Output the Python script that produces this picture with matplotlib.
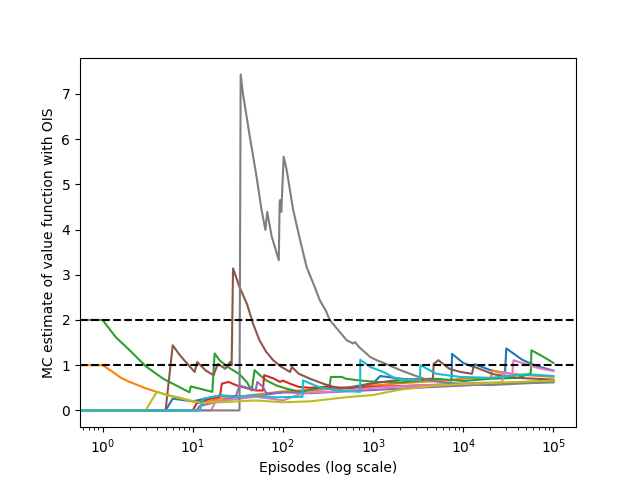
import matplotlib
matplotlib.use("Agg")
import matplotlib.pyplot as plt

# values, one run per list (episode, estimate)
blue_ep = [0, 1, 5, 6, 10, 20, 40, 100, 200, 500, 1000, 1200, 3000, 5000, 7400, 7500,
           10000, 13000, 13500, 20000, 29000, 30000, 45000, 65000, 100000]
blue_val = [0, 0, 0, 0.26, 0.2, 0.33, 0.3, 0.4, 0.45, 0.5, 0.6, 0.76, 0.66, 0.68, 0.66, 1.25,
            1.05, 0.96, 1.02, 0.89, 0.82, 1.37, 1.12, 0.98, 0.88]

orange_ep = [0, 1, 1.3, 1.6, 2, 3, 4, 5.5, 7.2, 9, 11.4, 15, 20, 30, 50, 100, 200, 500,
             1000, 2000, 5000, 10000, 15000, 20000, 21000, 30000, 50000, 100000]
orange_val = [1, 1, 0.85, 0.72, 0.63, 0.49, 0.41, 0.33, 0.28, 0.22, 0.18, 0.2, 0.26, 0.3,
              0.35, 0.42, 0.45, 0.5, 0.55, 0.6, 0.65, 0.7, 0.72, 0.7, 0.88, 0.82, 0.78, 0.74]

green_ep = [0, 1, 1.4, 2, 3, 4.7, 7.2, 9.2, 9.5, 12, 16.5, 17.5, 20, 25, 33, 40, 45, 48.5,
            57, 66, 85, 110, 155, 200, 330, 340, 450, 500, 720, 1100, 2000, 5000, 10000,
            20000, 40000, 56000, 57000, 75000, 100000]
green_val = [2, 2, 1.62, 1.33, 0.98, 0.7, 0.51, 0.40, 0.53, 0.48, 0.41, 1.26, 1.1, 0.95,
             0.8, 0.62, 0.44, 0.89, 0.76, 0.66, 0.55, 0.48, 0.41, 0.45, 0.55, 0.74, 0.74,
             0.7, 0.66, 0.63, 0.62, 0.7, 0.65, 0.7, 0.72, 0.82, 1.33, 1.2, 1.05]

red_ep = [0, 10, 11, 15, 20, 21, 25, 30, 35, 50, 60, 62, 80, 93, 100, 120, 150, 200, 300,
          500, 1000, 3000, 10000, 30000, 100000]
red_val = [0, 0, 0.15, 0.25, 0.3, 0.59, 0.63, 0.56, 0.52, 0.44, 0.44, 0.78, 0.7, 0.63,
           0.66, 0.59, 0.52, 0.5, 0.52, 0.5, 0.52, 0.55, 0.58, 0.6, 0.64]

purple_ep = [0, 11, 12, 20, 30, 33, 40, 50, 52, 60, 66, 100, 200, 500, 1000, 3000, 10000,
             30000, 100000]
purple_val = [0, 0, 0.1, 0.2, 0.3, 0.55, 0.5, 0.45, 0.63, 0.52, 0.37, 0.4, 0.38, 0.42,
              0.45, 0.5, 0.55, 0.6, 0.66]

brown_ep = [0, 5, 6, 7.2, 9, 10.5, 11.2, 14, 17, 19, 20, 23, 26, 27, 28, 33, 40, 47,
            55, 65, 78, 95, 120, 126, 150, 200, 280, 430, 600, 930, 2000, 4600, 4700, 5300,
            7000, 9300, 12500, 13000, 21500, 40000, 100000]
brown_val = [0, 0, 1.44, 1.22, 1.0, 0.85, 1.07, 0.88, 0.78, 1.03, 1.0, 0.92, 1.07, 1.0,
             3.14, 2.73, 2.35, 1.9, 1.55, 1.3, 1.11, 0.97, 0.85, 0.96, 0.81, 0.7, 0.59,
             0.48, 0.5, 0.59, 0.68, 0.7, 1.03, 1.11, 0.92, 0.85, 0.81, 0.97, 0.8, 0.72, 0.68]

pink_ep = [0, 16, 18, 30, 50, 80, 100, 150, 200, 400, 1000, 3000, 10000, 27000, 28000,
           35000, 36000, 50000, 70000, 100000]
pink_val = [0, 0, 0.2, 0.25, 0.3, 0.25, 0.22, 0.35, 0.4, 0.42, 0.5, 0.55, 0.6, 0.62,
            0.85, 0.8, 1.11, 1.02, 0.93, 0.87]

gray_ep = [0, 33, 34, 36, 43, 51, 58, 64, 67, 75, 90, 92, 93, 96, 102, 110, 130, 155,
           183, 217, 256, 300, 330, 397, 510, 600, 630, 700, 930, 1100, 1500, 2000,
           2500, 3200, 4200, 6000, 10000, 20000, 50000, 100000]
gray_val = [0, 0, 7.43, 7.01, 6.05, 5.17, 4.43, 3.99, 4.39, 3.85, 3.32, 4.6, 4.65, 4.39,
            5.61, 5.32, 4.43, 3.77, 3.17, 2.81, 2.44, 2.2, 2.0, 1.81, 1.55, 1.48, 1.51,
            1.4, 1.18, 1.11, 1.0, 0.89, 0.82, 0.74, 0.66, 0.62, 0.58, 0.56, 0.6, 0.62]

olive_ep = [0, 3, 4, 5.5, 7.2, 12, 20, 50, 100, 200, 300, 500, 1000, 2000, 5000, 10000,
            30000, 100000]
olive_val = [0, 0, 0.41, 0.32, 0.27, 0.17, 0.18, 0.22, 0.18, 0.2, 0.24, 0.29, 0.34, 0.46,
             0.55, 0.58, 0.62, 0.66]

cyan_ep = [0, 12, 13, 20, 30, 50, 80, 165, 167, 250, 400, 720, 721, 930, 1300, 1800,
           3300, 3350, 5000, 9300, 20000, 50000, 100000]
cyan_val = [0, 0, 0.26, 0.33, 0.3, 0.33, 0.29, 0.3, 0.66, 0.52, 0.44, 0.41, 1.12, 0.96,
            0.85, 0.7, 0.66, 1.0, 0.81, 0.74, 0.72, 0.8, 0.76]

runs = [(blue_ep, blue_val), (orange_ep, orange_val), (green_ep, green_val),
        (red_ep, red_val), (purple_ep, purple_val), (brown_ep, brown_val),
        (pink_ep, pink_val), (gray_ep, gray_val), (olive_ep, olive_val),
        (cyan_ep, cyan_val)]

true_value = 1
upper_value = 2


def make_plot():
    fig = plt.figure(figsize=(6.4, 4.8), dpi=100)
    for ep, val in runs:
        plt.plot(ep, val)
    plt.axhline(upper_value, color="k", linestyle="--")
    plt.axhline(true_value, color="k", linestyle="--")
    plt.xscale("log")
    plt.xlabel("Episodes (log scale)")
    plt.ylabel("MC estimate of value function with OIS")
    return fig


def main():
    fig = make_plot()
    fig.savefig("out.png")


if __name__ == "__main__":
    main()
